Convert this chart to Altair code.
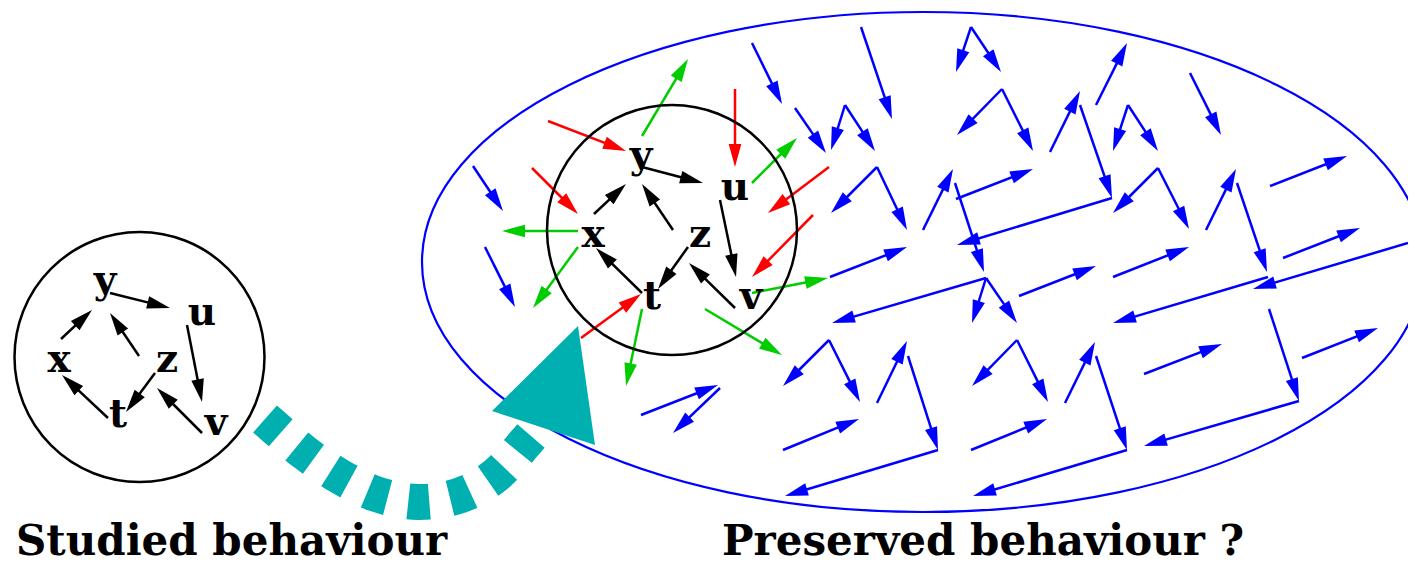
import math
import altair as alt
import pandas as pd

# ---------------- data (pixel positions) ----------------
node_labels = ["y", "u", "x", "z", "t", "v"]
left_lx = [105, 202, 59, 167, 118, 216]
left_ly = [293, 325, 372, 372, 427, 435]
right_lx = [641, 735, 593, 700, 652, 751]
right_ly = [168, 200, 247, 247, 309, 309]

black_x1 = [110, 61, 139, 187, 108, 155, 202, 642, 594, 673, 720, 642, 688, 735]
black_y1 = [293, 339, 356, 325, 418, 373, 433, 167, 214, 230, 200, 293, 247, 308]
black_x2 = [170, 92, 110, 202, 62, 126, 157, 703, 626, 642, 736, 596, 658, 689]
black_y2 = [308, 310, 313, 402, 375, 412, 388, 183, 184, 184, 277, 248, 289, 263]

red_x1 = [548, 735, 532, 829, 813, 581]
red_y1 = [121, 89, 168, 167, 215, 338]
red_x2 = [626, 735, 578, 768, 752, 641]
red_y2 = [151, 167, 214, 213, 277, 294]

green_x1 = [642, 752, 578, 578, 642, 752, 705]
green_y1 = [136, 183, 231, 247, 309, 293, 309]
green_x2 = [688, 797, 502, 533, 626, 828, 782]
green_y2 = [59, 138, 231, 308, 386, 278, 355]

blue_x1 = [752, 795, 845, 845, 861, 971, 971, 1002, 1002, 1050, 1080, 1112,
           877, 877, 923, 955, 956, 830, 986, 986, 986, 1019, 1096, 1128, 1128,
           1190, 1158, 1158, 1206, 1237, 1268, 1408, 1270, 1283, 1113,
           829, 829, 877, 908, 938, 783, 1017, 1017, 1065, 971, 1127, 1096,
           1144, 1269, 1299, 1302, 473, 485, 641, 720]
blue_y1 = [43, 108, 105, 105, 27, 27, 27, 89, 89, 152, 105, 198,
           167, 167, 230, 183, 199, 277, 278, 278, 278, 296, 105, 105, 105,
           73, 168, 168, 230, 183, 277, 243, 186, 258, 277,
           340, 340, 403, 356, 450, 450, 340, 340, 403, 450, 450, 356,
           374, 309, 401, 358, 166, 247, 415, 388]
blue_x2 = [782, 826, 831, 875, 892, 956, 1001, 957, 1033, 1080, 1112, 957,
           831, 907, 953, 984, 1033, 907, 972, 1017, 832, 1096, 1127, 1113, 1158,
           1221, 1113, 1189, 1236, 1267, 1113, 1253, 1347, 1360, 1189,
           783, 860, 907, 938, 785, 859, 972, 1048, 1095, 1047, 973, 1127,
           1222, 1299, 1144, 1378, 503, 515, 718, 673]
blue_y2 = [104, 153, 150, 151, 119, 72, 72, 135, 151, 91, 198, 245,
           213, 230, 169, 272, 169, 247, 323, 323, 323, 266, 43, 151, 151,
           135, 213, 229, 169, 272, 323, 289, 156, 228, 247,
           386, 402, 341, 450, 496, 419, 386, 402, 342, 419, 496, 450,
           344, 401, 446, 328, 211, 307, 385, 433]

circle_cx = [139.5, 672]
circle_cy = [357, 230]
circle_r = 125

ellipse_cx, ellipse_cy, ellipse_rx, ellipse_ry = 923, 262, 501, 250

curve_x = [265, 273, 305, 339, 376, 418, 461, 496, 524, 531]
curve_y = [419, 426, 453, 476, 494, 502, 495, 475, 444, 436]

tri_x = [578, 492, 595]
tri_y = [326, 411, 445]

bottom_texts = ["Studied behaviour", "Preserved behaviour ?"]
bottom_tx = [16, 722]
bottom_ty = [555, 555]

BLUE, RED, GREEN, BLACK, TEAL = "#0000ff", "#ff0000", "#00cc00", "#000000", "#00afaf"

# ---------------- helpers ----------------
HEAD_LEN = 23
HEAD_SIZE = HEAD_LEN ** 2
HEAD_PATH = "M0,0L0.55,2L-0.55,2Z"


def arrows(x1, y1, x2, y2, color):
    rows = []
    for a, b, c, d in zip(x1, y1, x2, y2):
        dx, dy = c - a, d - b
        L = math.hypot(dx, dy)
        ux, uy = dx / L, dy / L
        ang = (math.degrees(math.atan2(dx, -dy)) + 360) % 360
        rows.append(dict(x=a, y=b, xe=c - ux * HEAD_LEN * 0.6, ye=d - uy * HEAD_LEN * 0.6,
                         tx=c, ty=d, ang=ang, col=color))
    return rows


arrow_df = pd.DataFrame(
    arrows(blue_x1, blue_y1, blue_x2, blue_y2, BLUE)
    + arrows(red_x1, red_y1, red_x2, red_y2, RED)
    + arrows(green_x1, green_y1, green_x2, green_y2, GREEN)
    + arrows(black_x1, black_y1, black_x2, black_y2, BLACK)
)

# plot area spans page pixels x 8..1408 and y 8..566
xs = alt.Scale(domain=[8, 1408], nice=False, zero=False)
ys = alt.Scale(domain=[8, 566], nice=False, zero=False, reverse=True)


def X(f):
    return alt.X(f, type="quantitative", scale=xs, axis=None)


def Y(f):
    return alt.Y(f, type="quantitative", scale=ys, axis=None)


# ellipse as a custom symbol path (cubic bezier approximation)
k = 0.5523
q = ellipse_ry / ellipse_rx
ell_path = (f"M-1,0 C-1,{-k*q:.4f} {-k:.4f},{-q:.4f} 0,{-q:.4f} "
            f"C{k:.4f},{-q:.4f} 1,{-k*q:.4f} 1,0 "
            f"C1,{k*q:.4f} {k:.4f},{q:.4f} 0,{q:.4f} "
            f"C{-k:.4f},{q:.4f} -1,{k*q:.4f} -1,0 Z")
ellipse = alt.Chart(pd.DataFrame({"x": [ellipse_cx], "y": [ellipse_cy]})).mark_point(
    shape=ell_path, size=(2 * ellipse_rx) ** 2, filled=False, color=BLUE,
    strokeWidth=2.2, opacity=1
).encode(x=X("x"), y=Y("y"))

circles = alt.Chart(pd.DataFrame({"x": circle_cx, "y": circle_cy})).mark_point(
    shape="circle", size=(2 * circle_r) ** 2, filled=False, color=BLACK,
    strokeWidth=2.5, opacity=1
).encode(x=X("x"), y=Y("y"))

lines = alt.Chart(arrow_df).mark_rule(strokeWidth=2.5).encode(
    x=X("x"), y=Y("y"), x2="xe", y2="ye",
    color=alt.Color("col:N", scale=None)
)
heads = alt.Chart(arrow_df).mark_point(
    shape=HEAD_PATH, size=HEAD_SIZE, filled=True, opacity=1, strokeWidth=0
).encode(
    x=X("tx"), y=Y("ty"),
    angle=alt.Angle("ang:Q", scale=None),
    color=alt.Color("col:N", scale=None)
)

label_df = pd.DataFrame({
    "t": node_labels + node_labels,
    "x": left_lx + right_lx,
    "y": left_ly + right_ly,
})
labels = alt.Chart(label_df).mark_text(
    font="DejaVu Serif", fontWeight="bold", fontSize=39, align="center",
    baseline="alphabetic", color=BLACK
).encode(x=X("x"), y=Y("y"), text="t:N")

curve = alt.Chart(pd.DataFrame({"x": curve_x, "y": curve_y, "o": range(len(curve_x))})).mark_line(
    color=TEAL, strokeWidth=36, strokeDash=[21, 21], interpolate="catmull-rom"
).encode(x=X("x"), y=Y("y"), order="o:Q")

s = 60.0
tri_path = "M0,0" + "".join(
    f"L{(tx - tri_x[0]) / s:.4f},{(ty - tri_y[0]) / s:.4f}" for tx, ty in zip(tri_x[1:], tri_y[1:])
) + "Z"
triangle = alt.Chart(pd.DataFrame({"x": [tri_x[0]], "y": [tri_y[0]]})).mark_point(
    shape=tri_path, size=(2 * s) ** 2, filled=True, color=TEAL, opacity=1, strokeWidth=0
).encode(x=X("x"), y=Y("y"))

bottom = alt.Chart(pd.DataFrame({"t": bottom_texts, "x": bottom_tx, "y": bottom_ty})).mark_text(
    font="DejaVu Serif", fontWeight="bold", fontSize=42, align="left",
    baseline="alphabetic", color=BLACK
).encode(x=X("x"), y=Y("y"), text="t:N")

chart = alt.layer(ellipse, lines, heads, circles, labels, curve, triangle, bottom).properties(
    width=1400, height=558, padding=0,
    autosize=alt.AutoSizeParams(type="none")
).configure_view(stroke=None)

chart.save("out.html", embed_options={"renderer": "svg", "actions": False})
